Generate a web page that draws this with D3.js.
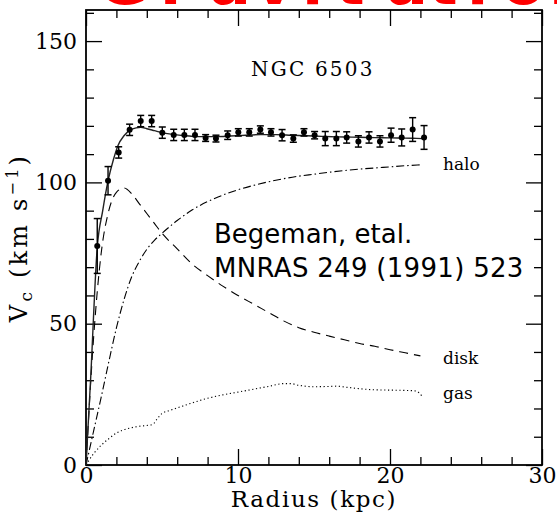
<!DOCTYPE html>
<html>
<head>
<meta charset="utf-8">
<script src="https://cdn.jsdelivr.net/npm/d3@7"></script>
<style>
  html, body { margin: 0; padding: 0; background: #fff; }
  svg { display: block; }
</style>
</head>
<body>
<script>
// NGC 6503 rotation curve with disk / halo / gas decomposition

// Observed rotation velocities (kpc, km/s) with errors
const radius = [0.74, 1.45, 2.15, 2.87, 3.60, 4.32, 5.02, 5.77, 6.47, 7.17, 7.87, 8.55, 9.32, 10.02, 10.74, 11.47, 12.17, 12.90, 13.64, 14.34, 15.04, 15.74, 16.47, 17.15, 17.92, 18.62, 19.34, 20.07, 20.77, 21.49, 22.24];
const vObs   = [77.5, 100.6, 110.6, 118.6, 121.7, 121.7, 117.6, 116.8, 116.8, 116.8, 115.7, 115.5, 116.7, 117.7, 117.7, 118.7, 117.7, 116.7, 115.5, 117.7, 116.7, 115.5, 115.5, 115.9, 114.5, 115.9, 114.5, 116.7, 115.9, 118.7, 115.9];
const vErr   = [9.7, 5.0, 2.0, 2.0, 2.0, 2.0, 2.0, 2.0, 2.0, 2.0, 1.2, 1.2, 1.5, 1.3, 1.3, 1.3, 1.3, 2.0, 1.3, 1.3, 1.3, 2.5, 2.5, 2.0, 2.0, 2.0, 2.0, 2.5, 3.0, 4.2, 4.2];

// Total model curve
const totalR = [0, 0.3, 0.74, 1.1, 1.45, 1.8, 2.1, 2.5, 2.9, 3.3, 3.6, 4.0, 4.5, 5.0, 5.7, 6.5, 7.5, 8.5, 9.5, 10.5, 11.5, 12.5, 13.5, 14.5, 15.5, 16.5, 17.5, 18.5, 19.5, 20.5, 21.5, 22.2];
const totalV = [0, 30, 77, 90, 100.5, 108, 113, 116.5, 118.5, 119.3, 119.5, 119, 118.3, 117.6, 117, 116.5, 116.2, 116.2, 116.4, 116.7, 116.9, 116.9, 116.7, 116.5, 116.3, 116.1, 116.0, 115.9, 115.8, 115.7, 115.6, 115.5];

// Stellar disk component
const diskR = [0, 0.5, 1.0, 1.5, 2.0, 2.5, 3.0, 3.5, 4.0, 4.5, 5, 6, 7, 8, 9, 10, 11, 12, 13, 14, 15, 16, 17, 18, 19, 20, 21, 22];
const diskV = [0, 45, 75, 90, 96.5, 98, 96, 92.5, 89, 85.5, 82, 76.5, 71, 67, 63.3, 60, 57, 54, 51, 48.6, 47, 45.6, 44.3, 43, 42, 40.8, 39.7, 38.6];

// Dark halo component
const haloR = [0, 0.5, 1, 1.5, 2, 2.5, 3, 3.5, 4, 4.5, 5, 6, 7, 8, 9, 10, 11, 12, 13, 14, 15, 16, 17, 18, 19, 20, 21, 22];
const haloV = [0, 12, 24, 36.5, 48.5, 58.5, 66.5, 72, 76.3, 79.5, 82, 86.5, 90.3, 93.2, 95.5, 97.4, 98.9, 100.2, 101.3, 102.2, 102.9, 103.6, 104.2, 104.7, 105.1, 105.5, 105.9, 106.2];

// Gas component
const gasR = [0, 0.5, 1, 1.5, 2, 2.5, 3, 3.5, 4, 4.4, 4.7, 5, 5.5, 6, 7, 8, 9, 10, 11, 12, 13, 13.5, 14, 15, 16, 16.5, 17, 18, 19, 20, 21, 21.7, 22.1];
const gasV = [0, 4, 7, 9.3, 11.3, 12.5, 13.2, 13.7, 14, 14.4, 16.5, 18.2, 19.3, 20.2, 22, 23.6, 24.8, 25.8, 26.8, 27.8, 28.8, 28.8, 28.2, 27.7, 27.8, 27.9, 27.6, 27, 26.6, 26.5, 26.4, 26.2, 24.4];

// Tick values
const xMajor = [0, 10, 20, 30];
const xMinor = [2, 4, 6, 8, 12, 14, 16, 18, 22, 24, 26, 28];
const yMajor = [0, 50, 100, 150];
const yMinor = [10, 20, 30, 40, 60, 70, 80, 90, 110, 120, 130, 140, 160];

const W = 557, H = 520;
const svg = d3.select("body").append("svg").attr("width", W).attr("height", H);

const x = d3.scaleLinear().domain([0, 30]).range([86, 542]);
const y = d3.scaleLinear().domain([0, 161]).range([465, 10]);

const serif = "'DejaVu Serif', 'Liberation Serif', serif";

// Header text running off the top edge
svg.append("text")
  .attr("x", [97, 160, 209, 254, 302, 335, 386, 428, 467, 502, 549].join(" "))
  .attr("y", 4)
  .attr("fill", "#ff0000")
  .attr("font-family", "'DejaVu Sans', sans-serif")
  .attr("font-weight", "bold")
  .attr("font-size", 62)
  .text("Gravitation");

// Axes: ticks point inward on all four sides
function styleAxis(g) {
  g.select(".domain").remove();
  g.selectAll(".tick line").attr("stroke", "#000").attr("stroke-width", 1.3);
  g.selectAll(".tick text").attr("font-family", serif).attr("font-size", 22).attr("fill", "#000");
}

svg.append("g").attr("transform", `translate(0,${y(0)})`)
  .call(d3.axisBottom(x).tickValues(xMajor).tickSizeInner(-16).tickSizeOuter(0).tickPadding(2).tickFormat(d3.format("d")))
  .call(styleAxis);
svg.append("g").attr("transform", `translate(0,${y(0)})`)
  .call(d3.axisBottom(x).tickValues(xMinor).tickSizeInner(-8).tickSizeOuter(0).tickFormat(""))
  .call(styleAxis);
svg.append("g").attr("transform", `translate(0,${y(161)})`)
  .call(d3.axisTop(x).tickValues(xMajor).tickSizeInner(-16).tickSizeOuter(0).tickFormat(""))
  .call(styleAxis);
svg.append("g").attr("transform", `translate(0,${y(161)})`)
  .call(d3.axisTop(x).tickValues(xMinor).tickSizeInner(-8).tickSizeOuter(0).tickFormat(""))
  .call(styleAxis);
svg.append("g").attr("transform", `translate(${x(0)},0)`)
  .call(d3.axisLeft(y).tickValues(yMajor).tickSizeInner(-16).tickSizeOuter(0).tickPadding(9).tickFormat(d3.format("d")))
  .call(styleAxis);
svg.append("g").attr("transform", `translate(${x(0)},0)`)
  .call(d3.axisLeft(y).tickValues(yMinor).tickSizeInner(-8).tickSizeOuter(0).tickFormat(""))
  .call(styleAxis);
svg.append("g").attr("transform", `translate(${x(30)},0)`)
  .call(d3.axisRight(y).tickValues(yMajor).tickSizeInner(-16).tickSizeOuter(0).tickFormat(""))
  .call(styleAxis);
svg.append("g").attr("transform", `translate(${x(30)},0)`)
  .call(d3.axisRight(y).tickValues(yMinor).tickSizeInner(-8).tickSizeOuter(0).tickFormat(""))
  .call(styleAxis);

// Frame
svg.append("rect")
  .attr("x", x(0)).attr("y", y(161))
  .attr("width", x(30) - x(0)).attr("height", y(0) - y(161))
  .attr("fill", "none").attr("stroke", "#000").attr("stroke-width", 1.8);

// Component curves
const line = d3.line().x(d => x(d[0])).y(d => y(d[1])).curve(d3.curveMonotoneX);
const zip = (a, b) => a.map((v, i) => [v, b[i]]);

svg.append("path").datum(zip(diskR, diskV))
  .attr("d", line).attr("fill", "none").attr("stroke", "#000")
  .attr("stroke-width", 1.1).attr("stroke-dasharray", "9,6");
svg.append("path").datum(zip(haloR, haloV))
  .attr("d", line).attr("fill", "none").attr("stroke", "#000")
  .attr("stroke-width", 1.1).attr("stroke-dasharray", "8,3,1.5,3");
svg.append("path").datum(zip(gasR, gasV))
  .attr("d", line).attr("fill", "none").attr("stroke", "#000")
  .attr("stroke-width", 1.1).attr("stroke-dasharray", "1.2,2.6");
svg.append("path").datum(zip(totalR, totalV))
  .attr("d", line).attr("fill", "none").attr("stroke", "#222")
  .attr("stroke-width", 1.4);

// Observed points with error bars
const obs = radius.map((r, i) => ({ r, v: vObs[i], e: vErr[i] }));
const pts = svg.append("g").selectAll("g").data(obs).join("g");
pts.append("line")
  .attr("x1", d => x(d.r)).attr("x2", d => x(d.r))
  .attr("y1", d => y(d.v - d.e)).attr("y2", d => y(d.v + d.e))
  .attr("stroke", "#000").attr("stroke-width", 1.4);
[-1, 1].forEach(s => {
  pts.append("line")
    .attr("x1", d => x(d.r) - 3.5).attr("x2", d => x(d.r) + 3.5)
    .attr("y1", d => y(d.v + s * d.e)).attr("y2", d => y(d.v + s * d.e))
    .attr("stroke", "#000").attr("stroke-width", 1.5);
});
pts.append("circle")
  .attr("cx", d => x(d.r)).attr("cy", d => y(d.v)).attr("r", 3)
  .attr("fill", "#000");

// Labels
svg.append("text").attr("x", 251).attr("y", 76)
  .attr("font-family", serif).attr("font-size", 20).attr("letter-spacing", 2.2)
  .text("NGC 6503");

const compLabels = [["halo", 170], ["disk", 364], ["gas", 399]];
svg.selectAll(".comp").data(compLabels).join("text")
  .attr("class", "comp")
  .attr("x", 443).attr("y", d => d[1])
  .attr("font-family", serif).attr("font-size", 17)
  .text(d => d[0]);

const cite = svg.append("g")
  .attr("font-family", "'DejaVu Sans', sans-serif").attr("font-size", 26);
cite.append("text").attr("x", 214).attr("y", 243).text("Begeman, etal.");
cite.append("text").attr("x", 214).attr("y", 277).attr("letter-spacing", 0.3).text("MNRAS 249 (1991) 523");

// Axis titles
svg.append("text")
  .attr("x", x(15)).attr("y", 507)
  .attr("text-anchor", "middle")
  .attr("font-family", serif).attr("font-size", 23).attr("letter-spacing", 1.6)
  .text("Radius (kpc)");

const yt = svg.append("text")
  .attr("transform", `translate(27,${(y(0) + y(161)) / 2}) rotate(-90)`)
  .attr("text-anchor", "middle")
  .attr("font-family", serif).attr("font-size", 24).attr("letter-spacing", 3.2);
yt.append("tspan").text("V");
yt.append("tspan").attr("font-size", 17).attr("dy", 5).text("c");
yt.append("tspan").attr("dy", -5).text(" (km s");
yt.append("tspan").attr("font-size", 16).attr("dy", -9).text("−1");
yt.append("tspan").attr("dy", 9).text(")");
</script>
</body>
</html>
